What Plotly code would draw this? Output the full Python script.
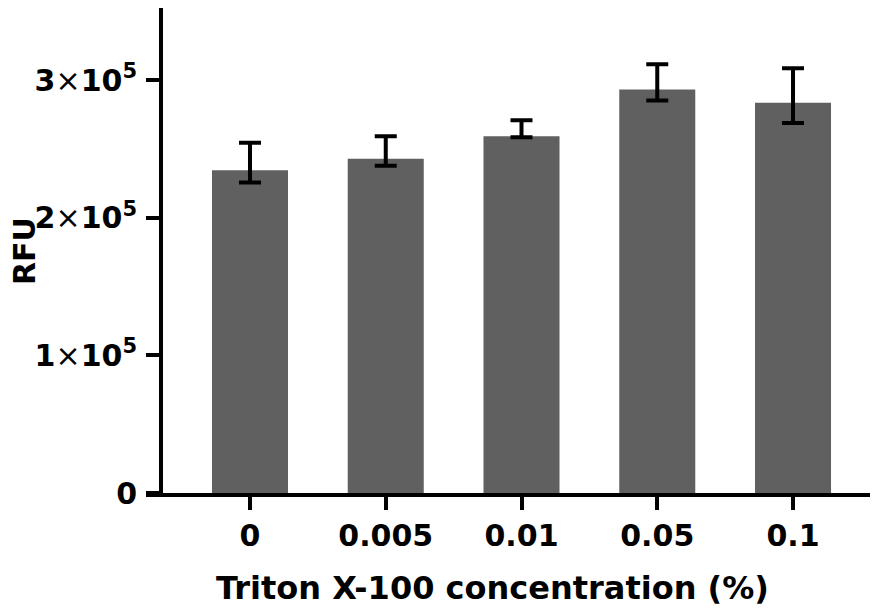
import plotly.graph_objects as go

categories = ["0", "0.005", "0.01", "0.05", "0.1"]
rfu_mean = [234600, 242900, 259300, 293200, 283600]
err_plus = [19900, 16400, 11600, 18400, 25100]
err_minus = [9000, 5100, 800, 8000, 14600]
y_tick_vals = [0, 100000, 200000, 300000]
y_tick_text = ["0",
               "1<span style='font-weight:normal;font-size:30px'>×</span>10<sup>5</sup>",
               "2<span style='font-weight:normal;font-size:30px'>×</span>10<sup>5</sup>",
               "3<span style='font-weight:normal;font-size:30px'>×</span>10<sup>5</sup>"]

FONT = "DejaVu Sans"

fig = go.Figure()
fig.add_trace(go.Bar(
    x=categories,
    y=rfu_mean,
    width=0.56,
    marker=dict(color="#606060", line=dict(width=0)),
    error_y=dict(type="data", symmetric=False, array=err_plus, arrayminus=err_minus,
                 color="black", thickness=4, width=11),
))

fig.update_layout(
    width=870, height=604,
    margin=dict(l=138, r=0, t=0, b=119),
    plot_bgcolor="white", paper_bgcolor="white",
    showlegend=False,
    font=dict(family=FONT, color="black", size=30, weight="bold"),
    xaxis=dict(
        type="category",
        range=[-0.766, 4.626],
        showline=True, linecolor="black", linewidth=4,
        ticks="outside", ticklen=13, tickwidth=4, tickcolor="black",
        tickfont=dict(family=FONT, size=30, color="black", weight="bold"),
        ticklabelstandoff=0,
        showgrid=False, zeroline=False,
    ),
    yaxis=dict(
        range=[0, 352500],
        anchor="free", position=0.0205,
        showline=True, linecolor="black", linewidth=4,
        ticks="outside", ticklen=13, tickwidth=4, tickcolor="black",
        tickvals=y_tick_vals, ticktext=y_tick_text,
        tickfont=dict(family=FONT, size=30, color="black", weight="bold"),
        ticklabelstandoff=3,
        showgrid=False, zeroline=False,
    ),
    annotations=[
        dict(text="Triton X-100 concentration (%)", xref="paper", yref="paper",
             x=0.4734, y=-0.196, xanchor="center", yanchor="middle", showarrow=False,
             font=dict(family=FONT, size=32, color="black", weight="bold")),
        dict(text="RFU", xref="paper", yref="paper",
             x=-0.1653, y=0.499, xanchor="center", yanchor="middle", showarrow=False,
             textangle=-90,
             font=dict(family=FONT, size=30, color="black", weight="bold")),
    ],
)

fig.write_html("out.html")
